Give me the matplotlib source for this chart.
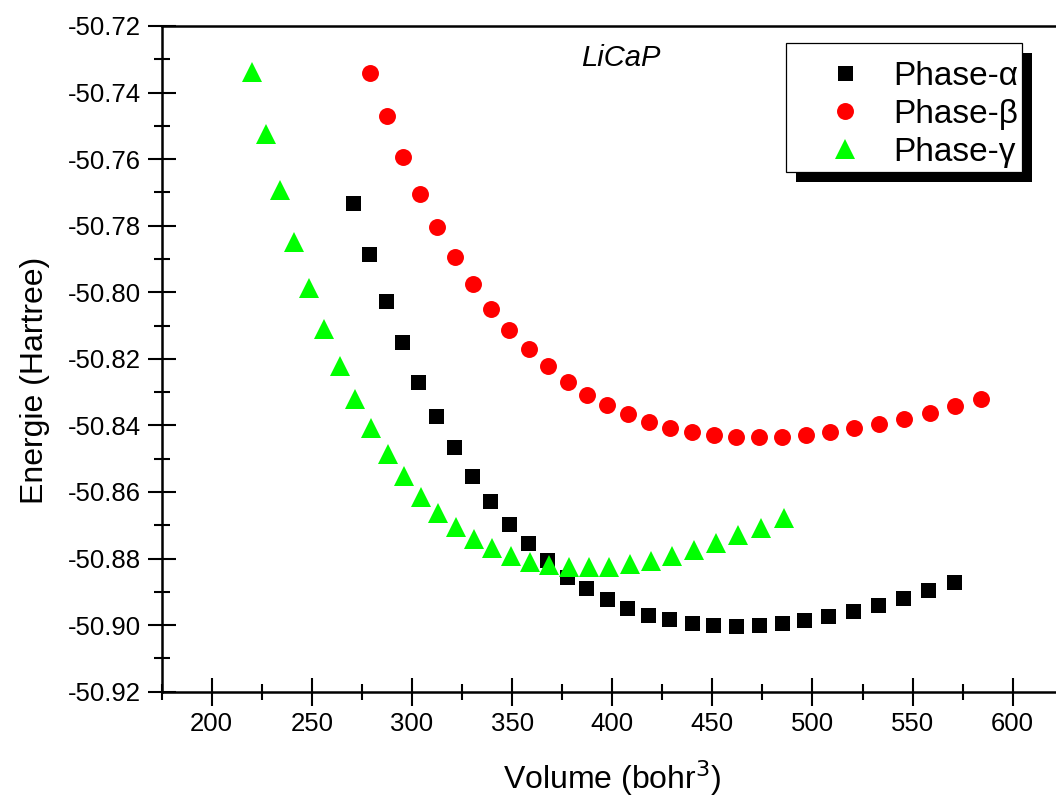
import matplotlib
matplotlib.use("Agg")
import matplotlib.pyplot as plt
from matplotlib.patches import Rectangle
from matplotlib.ticker import MultipleLocator, FormatStrFormatter

plt.rcParams['font.family'] = ['Liberation Sans', 'DejaVu Sans']

# volumes (bohr^3) and energies (Hartree)
V_alpha = [270.7, 278.7, 286.9, 295.0, 303.2, 312.1, 321.0, 329.9, 338.9, 348.4,
           357.9, 367.3, 377.3, 386.8, 397.3, 407.2, 417.7, 428.2, 439.6, 450.1,
           461.6, 473.1, 484.6, 496.0, 508.0, 520.1, 532.6, 545.0, 557.5, 570.7]
E_alpha = [-50.7732, -50.7886, -50.8025, -50.8151, -50.8269, -50.8371, -50.8465, -50.8551, -50.8626, -50.8696,
           -50.8753, -50.8804, -50.8855, -50.8888, -50.8921, -50.8948, -50.8969, -50.8981, -50.8993, -50.8999,
           -50.9002, -50.8999, -50.8993, -50.8986, -50.8972, -50.8957, -50.8939, -50.8918, -50.8895, -50.8871]

V_beta = [279.1, 287.4, 295.5, 304.0, 312.6, 321.4, 330.3, 339.4, 348.5, 358.4,
          367.8, 377.7, 387.5, 397.4, 407.9, 418.4, 428.8, 439.8, 450.8, 461.9,
          473.2, 484.9, 496.9, 508.8, 520.9, 533.4, 545.7, 558.5, 571.3, 584.4]
E_beta = [-50.7342, -50.7472, -50.7593, -50.7705, -50.7803, -50.7893, -50.7975, -50.8049, -50.8114, -50.8172,
          -50.8223, -50.8271, -50.8308, -50.8340, -50.8366, -50.8390, -50.8408, -50.8421, -50.8429, -50.8435,
          -50.8436, -50.8435, -50.8429, -50.8421, -50.8409, -50.8396, -50.8381, -50.8363, -50.8343, -50.8320]

V_gamma = [220.0, 227.0, 234.2, 241.3, 248.6, 256.3, 264.1, 271.7, 279.6, 287.9,
           296.2, 304.5, 313.1, 321.9, 330.9, 340.2, 349.4, 358.9, 368.5, 378.5,
           388.4, 398.4, 408.7, 419.2, 429.8, 440.6, 451.6, 462.7, 474.4, 486.0]
E_gamma = [-50.7337, -50.7524, -50.7692, -50.7848, -50.7986, -50.8111, -50.8221, -50.8321, -50.8408, -50.8485,
           -50.8553, -50.8614, -50.8663, -50.8705, -50.8741, -50.8768, -50.8792, -50.8809, -50.8819, -50.8826,
           -50.8826, -50.8824, -50.8816, -50.8806, -50.8791, -50.8774, -50.8754, -50.8729, -50.8707, -50.8678]

labels = ['Phase-\u03b1', 'Phase-\u03b2', 'Phase-\u03b3']

fig = plt.figure(figsize=(10.56, 8.01), dpi=100)
ax = fig.add_axes([0.1531, 0.1365, 0.8533, 0.8311])

ax.plot(V_alpha, E_alpha, 's', color='black', ms=10.8, mew=0, label=labels[0])
ax.plot(V_beta, E_beta, 'o', color='red', ms=12.2, mew=0, label=labels[1])
ax.plot(V_gamma, E_gamma, '^', color='#00ff00', ms=14, mew=0, label=labels[2])

ax.set_xlim(175, 625)
ax.set_ylim(-50.92, -50.72)
ax.xaxis.set_major_locator(MultipleLocator(50))
ax.xaxis.set_minor_locator(MultipleLocator(25))
ax.yaxis.set_major_locator(MultipleLocator(0.02))
ax.yaxis.set_minor_locator(MultipleLocator(0.01))
ax.yaxis.set_major_formatter(FormatStrFormatter('%.2f'))

for s in ax.spines.values():
    s.set_linewidth(1.8)
ax.spines['right'].set_visible(False)
ax.tick_params(which='both', direction='inout', width=1.5, labelsize=18.5, pad=5)
ax.tick_params(which='major', length=20)
ax.tick_params(which='minor', length=11.5)

ax.set_xlabel('Volume (bohr$^3$)', fontsize=23)
ax.set_ylabel('Energie (Hartree)', fontsize=23)
ax.xaxis.set_label_coords(0.5, -0.1)
ax.yaxis.set_label_coords(-0.124, 0.467)

ax.text(0.5098, 0.952, 'LiCaP', transform=ax.transAxes, fontsize=21,
        style='italic', ha='center', va='center')

# a tiny blank title pushes the rows down like in the original box
leg = fig.legend(loc='upper left', bbox_to_anchor=(786 / 1056, 1 - 43 / 801),
                 fontsize=24, frameon=True, fancybox=False, framealpha=1,
                 edgecolor='black', borderpad=0.12, handlelength=3.29,
                 handletextpad=-0.2, labelspacing=0.21, borderaxespad=0,
                 title=' ', title_fontsize=5)
leg.get_frame().set_linewidth(0.9)

# black drop shadow behind the legend box
fig.canvas.draw()
bb = leg.get_frame().get_window_extent(fig.canvas.get_renderer())
fig.add_artist(Rectangle((bb.x0 + 10, bb.y0 - 10), bb.width, bb.height,
                         transform=None, facecolor='black', edgecolor='none',
                         zorder=leg.get_zorder() - 0.1))

fig.savefig('out.png', dpi=100)
